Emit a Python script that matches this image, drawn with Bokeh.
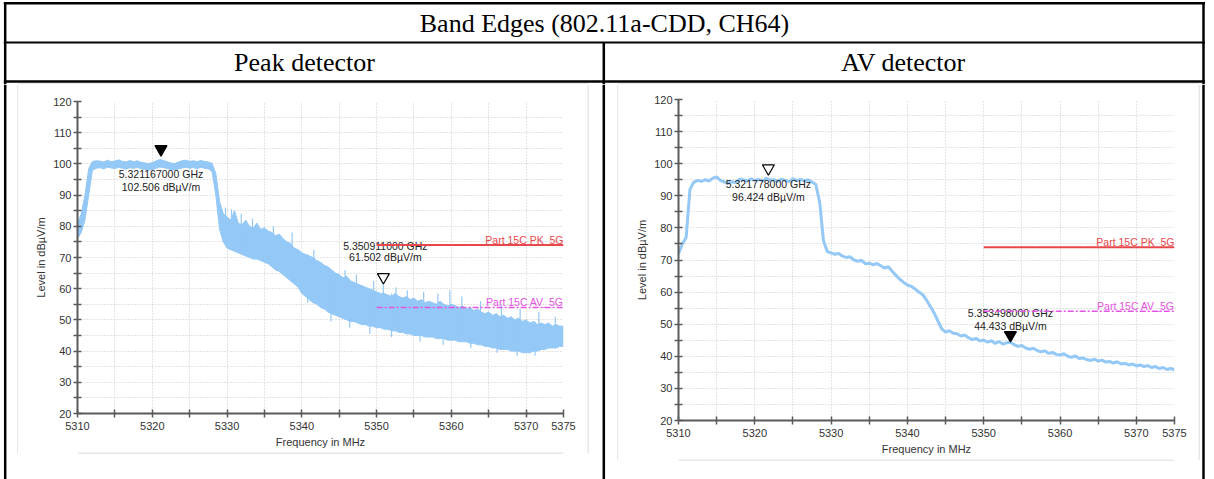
import numpy as np
from bokeh.plotting import figure
from bokeh.layouts import row, column
from bokeh.models import Range1d, FixedTicker
from bokeh.core.properties import value
from bokeh.embed import file_html
from bokeh.resources import INLINE

# ---------------- texts ----------------
TABLE_TITLE = "Band Edges (802.11a-CDD, CH64)"
COL_TITLES = ["Peak detector", "AV detector"]
X_LABEL = "Frequency in MHz"
Y_LABEL = "Level in dB\u00b5V/m"
PK_LIMIT_NAME = "Part 15C PK_5G"
AV_LIMIT_NAME = "Part 15C AV_5G"

# ---------------- axes ----------------
x_ticks = [5310, 5320, 5330, 5340, 5350, 5360, 5370, 5375]
x_minor = [5315, 5325, 5335, 5345, 5355, 5365]
y_ticks = [20, 30, 40, 50, 60, 70, 80, 90, 100, 110, 120]
y_minor = [25, 35, 45, 55, 65, 75, 85, 95, 105, 115]

# ---------------- data (sweep grid, 0.5 MHz) ----------------
sweep_mhz = np.arange(5310.0, 5375.001, 0.5)

# peak detector trace: lower / upper envelope of the noisy trace
peak_lo = [76, 78, 82, 90, 98.0, 98.6, 98.8, 98.4, 98.9, 98.7,
           98.5, 98.9, 98.6, 98.3, 98.8, 98.5, 98.9, 98.4, 98.2, 98.0,
           98.1, 98.6, 99.0, 98.8, 98.5, 98.1, 98.0, 98.4, 98.7, 98.9,
           98.6, 98.8, 98.5, 98.9, 98.6, 98.4, 97.5, 90, 79, 75,
           73, 72.5, 72, 71.5, 71, 70.5, 70, 69.5, 69.5, 69,
           68.5, 68, 67, 66, 65.5, 64.5, 63.5, 62.5, 61.5, 60.5,
           58.5, 57.5, 56.5, 55.5, 55, 54, 53.5, 52.5, 52, 51.5,
           51, 50.5, 50, 49.5, 49.5, 49, 48.5, 48.5, 48, 48,
           47.5, 47.5, 47, 47, 46.5, 46.5, 46, 46, 45.5, 45.5,
           45, 45, 45, 44.5, 44.5, 44.5, 44, 44, 44, 43.5,
           43.5, 43.5, 43, 43, 43, 42.5, 42.5, 42, 42, 41.5,
           41.5, 41, 41, 40.5, 40.5, 40.5, 40, 40, 40, 39.5,
           39.5, 39.5, 40, 40, 40.5, 40.5, 41, 41, 41, 41.5,
           41.5]
peak_hi = [81, 84, 90, 98.5, 100.8, 101.0, 100.9, 100.6, 101.2, 100.7,
           100.9, 101.3, 100.8, 100.6, 101.1, 100.7, 101.0, 100.5, 100.3, 100.1,
           100.4, 100.9, 101.4, 101.1, 100.7, 100.3, 100.1, 100.6, 101.0, 101.2,
           100.8, 101.0, 100.7, 101.1, 100.8, 100.6, 100.2, 97, 88, 84,
           83, 82, 85, 81, 80.5, 82, 80, 79.5, 81, 79,
           79.5, 78.5, 78, 77, 77.5, 76, 75, 74.5, 73, 72.5,
           71.5, 71, 70.5, 70, 69, 68.5, 67.5, 67, 66, 65,
           64.5, 63.5, 64, 62.5, 62, 61.5, 61, 60.5, 60, 59.5,
           59, 58.5, 58.5, 58, 57.5, 58.5, 57.5, 57, 57.5, 56.5,
           57, 56, 56.5, 55.5, 56, 55.5, 55, 56, 55, 54.5,
           55, 54.5, 54, 54.5, 53.5, 54, 53, 53.5, 52.5, 52,
           52.5, 51.5, 52, 51, 51.5, 50.5, 51, 50, 50.5, 49.5,
           50, 49, 49.5, 48.5, 49, 48.5, 49, 48, 48.5, 48,
           48]
# isolated noise spikes of the peak trace
spike_mhz = [5329.8, 5330.6, 5331.9, 5333.4, 5336.2, 5338.7, 5341.6, 5345.8, 5347.3,
             5349.6, 5350.9, 5352.6, 5354.1, 5356.3, 5358.2, 5359.8, 5361.4, 5363.9,
             5366.7, 5369.2, 5371.7, 5373.9,
             5340.8, 5343.9, 5346.4, 5349.1, 5352.0, 5355.8, 5358.9, 5362.6, 5366.1,
             5368.8, 5371.2]
spike_low = [76, 73, 71.5, 70, 67, 62, 56, 50.5, 49.5,
             48, 47.5, 47, 46, 45, 44.5, 44, 43.5, 42.5,
             41, 40.5, 40, 41,
             55.5, 49.5, 47.5, 45.5, 44.5, 43, 42, 41, 39.5,
             38.5, 38.5]
spike_high = [86, 85.5, 84, 82.5, 80, 78, 72.5, 66, 64.5,
              62.5, 61.5, 60.5, 59.5, 59, 58.5, 59.5, 57.5, 56,
              55, 53.5, 52.5, 51,
              71, 66, 63, 60, 58.5, 56, 55, 53.5, 52,
              50.5, 49.5]

# average detector trace
av_level = [72, 75, 77, 92, 94.2, 94.8, 94.5, 95.0, 94.6, 95.5,
            95.9, 94.8, 94.3, 94.0, 94.4, 94.1, 95.2, 95.0, 94.6, 95.3,
            94.8, 95.1, 94.7, 95.4, 94.9, 95.0, 94.5, 95.2, 94.8, 94.4,
            95.3, 94.7, 95.1, 94.6, 95.0, 94.3, 93.5, 88, 76, 72.6,
            72.2, 71.8, 72.0, 71.2, 70.8, 71.0, 70.0, 69.6, 69.9, 68.8,
            69.0, 68.5, 68.9, 68.2, 67.5, 67.9, 66.5, 65.2, 64.0, 63.0,
            62.2, 61.8, 61.0, 60.0, 59.2, 57.5, 55.5, 53.5, 51.0, 48.5,
            47.5, 48.0, 47.2, 47.0, 46.3, 46.6, 45.8, 45.2, 45.6, 44.8,
            45.1, 44.4, 44.9, 44.0, 44.6, 43.8, 44.2, 44.4, 43.6, 43.1,
            43.4, 42.6, 42.2, 42.5, 41.8, 41.4, 41.7, 40.9, 41.2, 40.6,
            40.4, 40.8, 40.0, 39.7, 40.1, 39.3, 39.5, 39.0, 38.7, 39.1,
            38.5, 38.8, 38.2, 38.4, 37.9, 38.3, 37.6, 37.8, 37.3, 37.6,
            37.0, 37.3, 36.8, 37.1, 36.5, 36.8, 36.2, 36.5, 35.9, 36.2,
            35.8]

# markers
peak_mk_mhz = [5321.167, 5350.911]
peak_mk_lvl = [102.506, 61.502]
peak_mk_filled = [True, False]
av_mk_mhz = [5321.778, 5353.498]
av_mk_lvl = [96.424, 44.433]
av_mk_filled = [False, True]

# limit lines
limit_mhz = [5350, 5375]
limit_pk = 74
limit_av = 54

# ---------------- styles ----------------
TRACE = "#94c8f6"
PK_RED = "#e8474b"
AV_MAG = "#e455e4"
AXIS_C = "#5a5a5a"
GRID_C = "#c9c9c9"
PANEL_C = "#cfcfcf"
SANS = "Liberation Sans"
SERIF = "Liberation Serif"


def canvas(w, h):
    p = figure(width=w, height=h, x_range=Range1d(0, w), y_range=Range1d(h, 0),
               x_axis_location=None, y_axis_location=None, toolbar_location=None,
               output_backend="svg", min_border=0, outline_line_color=None,
               background_fill_color="white", border_fill_color="white")
    p.xgrid.visible = False
    p.ygrid.visible = False
    return p


def vline(p, x, y0, y1, color="black", w=2.5):
    p.segment(x0=[x], y0=[y0], x1=[x], y1=[y1], line_color=color, line_width=w)


def hline(p, y, x0, x1, color="black", w=2.5):
    p.segment(x0=[x0], y0=[y], x1=[x1], y1=[y], line_color=color, line_width=w)


def chart(w, h, left, right, top, bottom):
    p = figure(width=w, height=h, x_range=Range1d(5310, 5375), y_range=Range1d(20, 120),
               toolbar_location=None, output_backend="svg",
               min_border_left=left, min_border_right=right,
               min_border_top=top, min_border_bottom=bottom,
               background_fill_color="white", border_fill_color="white",
               outline_line_color=None)
    p.xaxis.ticker = FixedTicker(ticks=x_ticks, minor_ticks=x_minor)
    p.yaxis.ticker = FixedTicker(ticks=y_ticks, minor_ticks=y_minor)
    p.xaxis.axis_label = X_LABEL
    p.yaxis.axis_label = Y_LABEL
    for ax in (p.xaxis, p.yaxis):
        ax.axis_line_color = AXIS_C
        ax.axis_line_width = 2
        ax.major_tick_line_color = AXIS_C
        ax.major_tick_line_width = 1.5
        ax.minor_tick_line_color = AXIS_C
        ax.minor_tick_line_width = 1.5
        ax.major_tick_in = 4
        ax.major_tick_out = 4
        ax.minor_tick_in = 4
        ax.minor_tick_out = 4
        ax.major_label_text_font = SANS
        ax.major_label_text_font_size = "11px"
        ax.major_label_text_color = "#333333"
        ax.axis_label_text_font = SANS
        ax.axis_label_text_font_size = "11px"
        ax.axis_label_text_font_style = "normal"
        ax.axis_label_text_color = "#333333"
    p.xaxis.major_label_standoff = 4
    p.xaxis.axis_label_standoff = 3
    p.yaxis.major_label_standoff = 2
    p.yaxis.axis_label_standoff = 3
    p.grid.grid_line_color = GRID_C
    p.grid.grid_line_dash = "1 2"
    p.grid.minor_grid_line_color = GRID_C
    p.grid.minor_grid_line_dash = "1 2"
    return p


def add_limits(p):
    p.line(limit_mhz, [limit_pk, limit_pk], line_color=PK_RED, line_width=2)
    p.line(limit_mhz, [limit_av, limit_av], line_color=AV_MAG, line_width=1.5,
           line_dash="6 2 2 2")
    p.text(x=[limit_mhz[1]], y=[limit_pk], text=[PK_LIMIT_NAME], text_align="right",
           text_baseline="bottom", text_color=PK_RED, text_font=value(SANS),
           text_font_size="10.5px", y_offset=1)
    p.text(x=[limit_mhz[1]], y=[limit_av], text=[AV_LIMIT_NAME], text_align="right",
           text_baseline="bottom", text_color=AV_MAG, text_font=value(SANS),
           text_font_size="10.5px", y_offset=1)


def add_markers(p, mhz, lvl, filled, offsets, frame_h):
    px_per_unit = frame_h / (120 - 20)
    size = 12
    tip = size / 2 * np.sqrt(3) * 2 / 3  # px from marker centre to its tip
    ys = [v + tip / px_per_unit for v in lvl]
    fills = ["black" if f else "white" for f in filled]
    p.scatter(x=mhz, y=ys, marker="inverted_triangle", size=size,
              fill_color=fills, line_color="black", line_width=1.2)
    for f, v, (dx, dy1, dy2) in zip(mhz, lvl, offsets):
        for txt, dy in ((f"{f / 1000:.9f} GHz", dy1), (f"{v:.3f} dB\u00b5V/m", dy2)):
            p.text(x=[f], y=[v], text=[txt], x_offset=dx, y_offset=dy,
                   text_align="center", text_baseline="middle", text_color="#222222",
                   text_font=value(SANS), text_font_size="10.5px")


# ---------------- header (table top) ----------------
W = 1214
hdr = canvas(W, 84)
hline(hdr, 2.8, 3.3, 1204.5)
hline(hdr, 42, 3.3, 1204.5, w=2)
hline(hdr, 81, 3.3, 1204.5)
vline(hdr, 4.7, 1.6, 84)
vline(hdr, 1203, 1.6, 84)
vline(hdr, 603.3, 42, 84)
hline(hdr, 83.5, 17.5, 587.5, color=PANEL_C, w=1)
hline(hdr, 83.5, 617.5, 1198.5, color=PANEL_C, w=1)
hdr.text(x=[604, 304, 903], y=[22.5, 61.5, 61.5], text=[TABLE_TITLE] + COL_TITLES,
         text_align="center", text_baseline="middle", text_color="black",
         text_font=value(SERIF), text_font_size="26px")

# ---------------- strips ----------------
H = 395
left_strip = canvas(18, H)
vline(left_strip, 4.7, 0, H)
vline(left_strip, 17.5, 0, 368.5, color=PANEL_C, w=1)

mid_strip = canvas(31, H)
vline(mid_strip, 0.5, 0, 368.5, color=PANEL_C, w=1)
vline(mid_strip, 16.3, 0, H)
vline(mid_strip, 30.5, 0, 375.5, color=PANEL_C, w=1)

right_strip = canvas(16, H)
vline(right_strip, 0.5, 0, 375.5, color=PANEL_C, w=1)
vline(right_strip, 5, 0, H)

bot1 = canvas(569, 27)
hline(bot1, 0.5, 0, 569, color=PANEL_C, w=1)
bot2 = canvas(580, 20)
hline(bot2, 0.5, 0, 580, color=PANEL_C, w=1)

# ---------------- peak chart ----------------
p1 = chart(569, 368, 59, 24, 17, 39)
p1.varea(x=sweep_mhz, y1=peak_lo, y2=peak_hi, fill_color=TRACE)
p1.line(sweep_mhz, peak_hi, line_color=TRACE, line_width=1)
p1.line(sweep_mhz, peak_lo, line_color=TRACE, line_width=1)
p1.segment(x0=spike_mhz, y0=spike_low, x1=spike_mhz, y1=spike_high,
           line_color=TRACE, line_width=1.2)
add_markers(p1, peak_mk_mhz, peak_mk_lvl, peak_mk_filled,
            [(0, 18, 31), (2, -38, -27)], 312)
add_limits(p1)

# ---------------- AV chart ----------------
p2 = chart(580, 375, 60, 24, 15, 39)
p2.line(sweep_mhz, av_level, line_color=TRACE, line_width=3)
add_markers(p2, av_mk_mhz, av_mk_lvl, av_mk_filled,
            [(0, 9, 22), (0, -29, -16)], 321)
add_limits(p2)

layout = column(hdr,
                row(left_strip, column(p1, bot1), mid_strip, column(p2, bot2), right_strip))

open("out.html", "w").write(file_html(layout, INLINE))
